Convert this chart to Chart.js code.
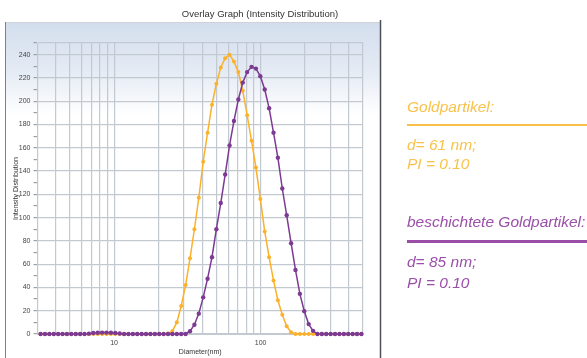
<!DOCTYPE html>
<html>
<head>
<meta charset="utf-8">
<title>Overlay Graph (Intensity Distribution)</title>
<script src="https://cdn.jsdelivr.net/npm/chart.js@4.4.1/dist/chart.umd.min.js"></script>
<style>
  body { margin: 0; background: #fff; }
  #wrap { position: relative; width: 587px; height: 358px; overflow: hidden; font-family: "Liberation Sans", Arial, sans-serif; }
  #chart { position: absolute; left: 0; top: 0; }
  .title { position: absolute; left: 0; width: 520px; top: 8.5px; text-align: center; font-size: 9.5px; line-height: 1; color: #333; white-space: nowrap; }
  .note { position: absolute; left: 407px; font-style: italic; font-size: 15.5px; line-height: 15.5px; white-space: nowrap; }
  .gold { color: #f9c24c; }
  .coated { color: #9a4fa8; }
  .rule { position: absolute; left: 407px; width: 180px; height: 2px; }
</style>
</head>
<body>
<div id="wrap">
  <canvas id="chart" width="587" height="358"></canvas>
  <div class="title">Overlay Graph (Intensity Distribution)</div>

  <div class="note gold" style="top:99px">Goldpartikel:</div>
  <div class="rule" style="top:124px;background:#f8c24a"></div>
  <div class="note gold" style="top:137px">d= 61 nm;</div>
  <div class="note gold" style="top:156px">PI = 0.10</div>

  <div class="note coated" style="top:213.5px">beschichtete Goldpartikel:</div>
  <div class="rule" style="top:240px;height:2.5px;background:#9a4ea8"></div>
  <div class="note coated" style="top:253.5px">d= 85 nm;</div>
  <div class="note coated" style="top:275px">PI = 0.10</div>
</div>
<script>
// size classes (nm), log spaced
const diameters = [
  3.149, 3.374, 3.615, 3.874, 4.151, 4.448, 4.765, 5.106, 5.471, 5.862,
  6.282, 6.731, 7.212, 7.728, 8.281, 8.873, 9.508, 10.19, 10.92, 11.70,
  12.53, 13.43, 14.39, 15.42, 16.52, 17.70, 18.97, 20.33, 21.78, 23.34,
  25.01, 26.80, 28.71, 30.77, 32.97, 35.33, 37.85, 40.56, 43.46, 46.57,
  49.90, 53.47, 57.29, 61.39, 65.78, 70.49, 75.53, 80.93, 86.72, 92.92,
  99.56, 106.7, 114.3, 122.5, 131.2, 140.6, 150.7, 161.5, 173.0, 185.4,
  198.7, 212.9, 228.1, 244.4, 261.9, 280.6, 300.7, 322.2, 345.3, 370.0,
  396.4, 424.8, 455.2, 487.7
];

// Goldpartikel (orange)
const goldIntensity = [
  0, 0, 0, 0, 0, 0, 0, 0, 0, 0,
  0, 0, 0, 0, 0, 0, 0, 0, 0, 0,
  0, 0, 0, 0, 0, 0, 0, 0, 0, 0.5,
  2.5, 10, 24, 42, 65, 90, 117, 148, 173, 197,
  215, 229, 237, 240, 234, 225, 209, 188, 166, 143,
  116, 88, 66, 46, 29, 16.5, 6.6, 1.6, 0, 0,
  0, 0, 0, 0, 0, 0, 0, 0, 0, 0,
  0, 0, 0, 0
];

// beschichtete Goldpartikel (purple)
const coatedIntensity = [
  0, 0, 0, 0, 0, 0, 0, 0, 0, 0,
  0, 0.3, 0.8, 1.1, 1.2, 1.2, 1.1, 0.8, 0.4, 0,
  0, 0, 0, 0, 0, 0, 0, 0, 0, 0,
  0, 0, 0, 0, 2.4, 8, 17.5, 31.5, 47.5, 66,
  90, 112.5, 137, 162, 183, 201.5, 216, 225, 229.5, 228,
  221.5, 210, 194, 173, 151.5, 125, 102, 78, 55, 34.5,
  19.5, 8.5, 2.7, 0, 0, 0, 0, 0, 0, 0,
  0, 0, 0, 0
];

const xGridTicks = [3, 4, 5, 6, 7, 8, 9, 10, 20, 30, 40, 50, 60, 70, 80, 90, 100, 200, 300, 400, 500];
const xLabelTicks = [10, 100];
const yTicks = [0, 10, 20, 30, 40, 50, 60, 70, 80, 90, 100, 110, 120, 130, 140, 150, 160, 170, 180, 190, 200, 210, 220, 230, 240, 250];

const GOLD = '#fbb12a';
const COATED = '#7c3a92';
const GRID = '#c2c9d1';

function points(values) {
  return diameters.map((d, i) => ({ x: d, y: values[i] }));
}

// window frame with the bluish gradient behind the plot
const framePlugin = {
  id: 'frame',
  beforeDraw(chart) {
    const ctx = chart.ctx;
    ctx.save();
    ctx.fillStyle = '#fff';
    ctx.fillRect(0, 0, chart.width, chart.height);
    const g = ctx.createLinearGradient(0, 22, 0, 115);
    g.addColorStop(0, '#d3deed');
    g.addColorStop(0.5, '#e3eaf4');
    g.addColorStop(1, '#ffffff');
    ctx.fillStyle = g;
    ctx.fillRect(5, 22, 376, 336);
    ctx.strokeStyle = '#cfd3d8';
    ctx.lineWidth = 1;
    ctx.beginPath();
    ctx.moveTo(5, 22.5);
    ctx.lineTo(381, 22.5);
    ctx.stroke();
    ctx.strokeStyle = '#7d8187';
    ctx.beginPath();
    ctx.moveTo(5.5, 22);
    ctx.lineTo(5.5, 358);
    ctx.stroke();
    ctx.strokeStyle = '#4d5055';
    ctx.lineWidth = 1.5;
    ctx.beginPath();
    ctx.moveTo(380.5, 20);
    ctx.lineTo(380.5, 358);
    ctx.stroke();
    ctx.restore();
  }
};

new Chart(document.getElementById('chart'), {
  type: 'line',
  data: {
    datasets: [
      {
        label: 'beschichtete Goldpartikel',
        data: points(coatedIntensity),
        borderColor: COATED,
        backgroundColor: COATED,
        borderWidth: 1.5,
        pointRadius: 2.2,
        pointBackgroundColor: COATED,
        pointBorderWidth: 0,
        tension: 0,
        clip: 4
      },
      {
        label: 'Goldpartikel',
        data: points(goldIntensity),
        borderColor: GOLD,
        backgroundColor: GOLD,
        borderWidth: 1.5,
        pointRadius: 2,
        pointBackgroundColor: GOLD,
        pointBorderWidth: 0,
        tension: 0,
        clip: 4
      }
    ]
  },
  options: {
    responsive: false,
    animation: false,
    events: [],
    layout: { padding: { left: 8, right: 224, top: 43, bottom: 0 } },
    plugins: {
      legend: { display: false },
      tooltip: { enabled: false }
    },
    scales: {
      x: {
        type: 'logarithmic',
        min: 3,
        max: 500,
        afterBuildTicks: (axis) => { axis.ticks = xGridTicks.map(v => ({ value: v })); },
        afterFit: (axis) => { axis.height = 24; },
        grid: { color: GRID, lineWidth: 1.2, drawTicks: false },
        border: { color: GRID },
        ticks: {
          autoSkip: false,
          maxRotation: 0,
          padding: 5,
          color: '#444',
          font: { family: 'Liberation Sans', size: 7 },
          callback: (v) => xLabelTicks.includes(v) ? String(v) : ''
        },
        title: {
          display: true,
          text: 'Diameter(nm)',
          color: '#333',
          font: { family: 'Liberation Sans', size: 7 },
          padding: { top: 0, bottom: 2 }
        }
      },
      y: {
        min: 0,
        max: 250,
        afterBuildTicks: (axis) => { axis.ticks = yTicks.map(v => ({ value: v })); },
        afterFit: (axis) => { axis.width = 29.5; },
        grid: {
          color: (c) => (c.tick && (c.tick.value % 20 === 0 || c.tick.value === 250)) ? GRID : 'rgba(0,0,0,0)',
          tickColor: '#9aa1a8',
          lineWidth: 1.2,
          tickLength: 4
        },
        border: { color: GRID },
        ticks: {
          padding: 3,
          color: '#444',
          font: { family: 'Liberation Sans', size: 7 },
          callback: (v) => (v % 20 === 0) ? String(v) : ''
        },
        title: {
          display: true,
          text: 'Intensity Distribution',
          color: '#333',
          font: { family: 'Liberation Sans', size: 7 },
          padding: { top: 4, bottom: 0 }
        }
      }
    }
  },
  plugins: [framePlugin]
});
</script>
</body>
</html>
